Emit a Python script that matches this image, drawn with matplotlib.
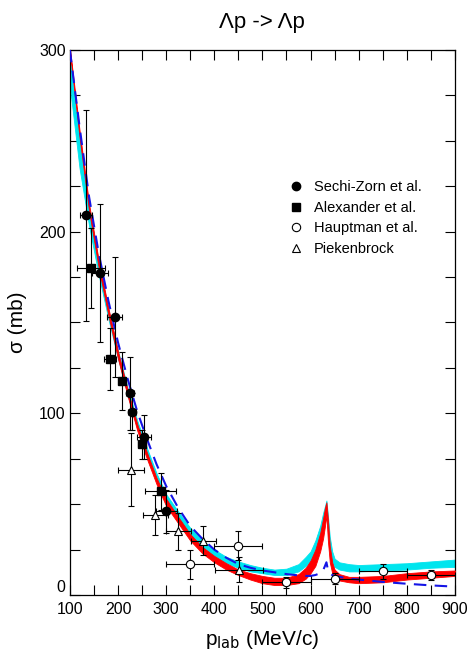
from matplotlib import pyplot as plt
from matplotlib.lines import Line2D
from matplotlib.ticker import MultipleLocator

plt.rcParams['font.family'] = ['Liberation Sans', 'DejaVu Sans']

# theory curves (momentum grid in MeV/c, cross sections in mb)
p_lab = [100, 120, 140, 160, 180, 200, 220, 240, 260, 280, 300, 325, 350, 375,
         400, 425, 450, 475, 500, 525, 550, 575, 590, 600, 610, 620, 626, 630,
         633, 636, 640, 645, 650, 660, 680, 700, 750, 800, 850, 900]

red_hi = [301, 256, 215, 184, 158, 134, 113, 94, 78.5, 64.5, 53, 43, 33.5, 26.5,
          21.5, 17.5, 14, 12, 10.5, 9.5, 9.5, 11.5, 15, 19, 25, 34, 42, 48,
          51, 42, 27, 18, 14, 11.5, 10, 10, 10.5, 12, 13, 13.5]
red_lo = [299, 252, 211, 180, 154, 130, 109.5, 90.5, 75, 61, 49, 39.5, 30, 23,
          18, 14, 11, 8.5, 6.5, 5.5, 5.5, 6.5, 9, 12, 16, 24, 31, 38,
          44, 30, 18, 12, 9.5, 8, 7, 6.5, 7, 8.5, 9.5, 10.5]

cyan_hi = [300, 252, 214, 183, 157, 134.5, 114, 96, 81, 67, 55.5, 46, 37, 30,
           25, 21, 18.5, 16.5, 15, 14, 14.5, 17, 21, 24, 30, 38, 45, 49,
           52, 44, 32, 24, 20, 18, 17, 16.5, 17, 17.5, 18.5, 19.5]
cyan_lo = [280, 235, 203, 176, 152, 130, 110, 92, 77, 63, 52, 42, 33, 26.5,
           21.5, 17.5, 15, 13, 12, 11, 11, 13, 16, 18.5, 23, 29, 36, 41,
           46, 36, 24, 18, 15.5, 14, 13, 13, 13.5, 14, 15, 15.5]

blue_dash = [300, 258, 219, 188, 162, 139, 119, 101, 86, 72, 60, 48, 38, 31,
             25, 20.5, 17, 15, 13.5, 12.5, 11.5, 10.8, 10.5, 10.5, 11, 12, 13.5, 16,
             18, 14, 12, 11, 10.5, 10, 9, 8.5, 7.2, 6.2, 5.3, 4.6]

# experimental data
sechi_p = [133, 162, 193, 225, 229, 254, 300]
sechi_s = [209, 177, 153, 111, 101, 87, 46]
sechi_dp = [12, 17, 15, 9, 8, 15, 22]
sechi_ds = [58, 38, 33, 20, 10, 12, 12]

alex_p = [144, 183, 209, 250, 289]
alex_s = [180, 130, 118, 83, 57]
alex_dp = [29, 12, 6, 8, 32]
alex_ds = [22, 17, 16, 8, 10]

haupt_p = [350, 450, 550, 650, 750, 850]
haupt_s = [17, 27, 7, 9, 13, 11]
haupt_dp = [50, 50, 50, 50, 50, 50]
haupt_ds = [8, 8, 3, 3, 4, 3]

pieken_p = [227, 277, 325, 377, 452]
pieken_s = [69, 44, 35, 30, 14]
pieken_dp = [26, 26, 26, 26, 50]
pieken_ds = [20, 11, 10, 8, 7]

y_ticks = [0, 100, 200, 300]

fig = plt.figure(figsize=(4.69, 6.52), dpi=100)
ax = fig.add_axes([0.149, 0.0874, 0.821, 0.836])

ax.fill_between(p_lab, cyan_lo, cyan_hi, color='#00e5ee', lw=0.6, zorder=2)
ax.fill_between(p_lab, red_lo, red_hi, color='#ff0000', lw=0.6, zorder=3)
ax.plot(p_lab, blue_dash, color='#1414e6', lw=1.5, dashes=(6, 4), zorder=4)

eb = dict(color='black', ecolor='black', elinewidth=0.8, capsize=2,
          capthick=0.8, ls='none', zorder=5)
ax.errorbar(sechi_p, sechi_s, xerr=sechi_dp, yerr=sechi_ds, fmt='o', ms=6,
            mfc='black', **eb)
ax.errorbar(alex_p, alex_s, xerr=alex_dp, yerr=alex_ds, fmt='s', ms=6,
            mfc='black', **eb)
ax.errorbar(haupt_p, haupt_s, xerr=haupt_dp, yerr=haupt_ds, fmt='o', ms=6,
            mfc='white', mew=0.8, **eb)
ax.errorbar(pieken_p, pieken_s, xerr=pieken_dp, yerr=pieken_ds, fmt='^', ms=6,
            mfc='white', mew=0.8, **eb)

ax.set_xlim(100, 900)
ax.set_ylim(0, 300)
ax.xaxis.set_major_locator(MultipleLocator(100))
ax.xaxis.set_minor_locator(MultipleLocator(50))
ax.set_yticks(y_ticks, [str(v) for v in y_ticks])
ax.yaxis.set_minor_locator(MultipleLocator(25))
ax.tick_params(which='both', direction='in', top=True, right=True,
               length=7, width=0.8, labelsize=11.5)
ax.tick_params(axis='x', pad=5)
ax.tick_params(axis='y', pad=3)
for s in ax.spines.values():
    s.set_linewidth(0.9)

# the "0" on the y axis sits just above the axis so it clears the "100"
for lab in ax.get_yticklabels():
    if lab.get_text() == '0':
        lab.set_verticalalignment('bottom')

ax.set_xlabel(r'p$_{\rm lab}$ (MeV/c)', fontsize=15, labelpad=8)
ax.set_ylabel(r'σ (mb)', fontsize=15, labelpad=9)
ax.set_title('Λp -> Λp', fontsize=16, pad=16)

# legend with bare markers, no error bars
handles = [
    Line2D([], [], ls='none', marker='o', ms=6, color='black'),
    Line2D([], [], ls='none', marker='s', ms=5.5, color='black'),
    Line2D([], [], ls='none', marker='o', ms=6, mfc='white', mec='black', mew=0.8),
    Line2D([], [], ls='none', marker='^', ms=6, mfc='white', mec='black', mew=0.8),
]
labels = ['Sechi-Zorn et al.', 'Alexander et al.', 'Hauptman et al.', 'Piekenbrock']
ax.legend(handles, labels, loc='upper left', bbox_to_anchor=(0.535, 0.785),
          frameon=False, fontsize=10.5, handletextpad=0.7, labelspacing=0.45,
          handlelength=1.0)

fig.savefig('out.png', dpi=100)
